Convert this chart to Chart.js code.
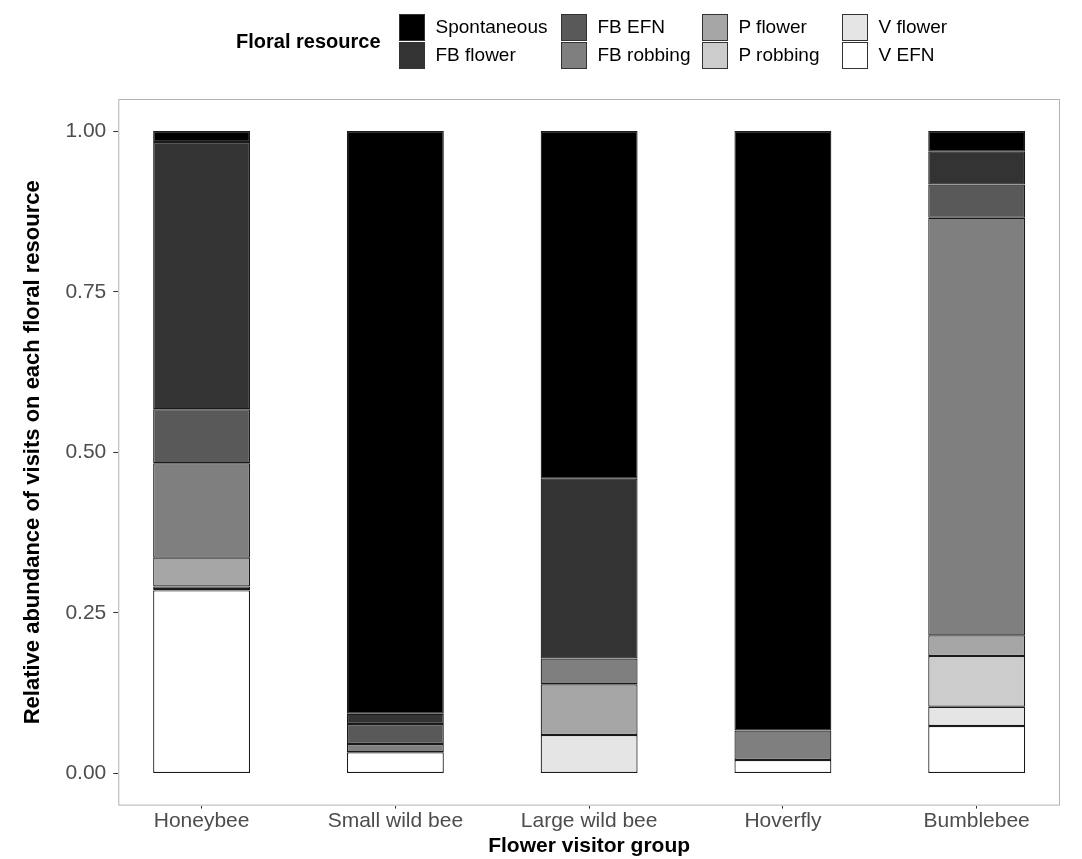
<!DOCTYPE html>
<html>
<head>
<meta charset="utf-8">
<script src="https://cdn.jsdelivr.net/npm/chart.js@4.4.1/dist/chart.umd.min.js"></script>
<style>
  html, body { margin: 0; padding: 0; background: #fff; }
  #wrap { position: relative; width: 1082px; height: 859px; font-family: "Liberation Sans", Arial, sans-serif; }
  #legend { position: absolute; top: 13px; left: 236px; display: flex; align-items: center; }
  #legend .title { font-weight: bold; font-size: 20px; margin-right: 18px; color: #000; }
  #legend .grid { display: grid; grid-auto-flow: column; grid-template-rows: 28px 28px; grid-template-columns: 162px 141px 140px auto; }
  #legend .item { display: flex; align-items: center; font-size: 19px; color: #000; }
  #legend .box { width: 26px; height: 27px; border: 1px solid #333; box-sizing: border-box; margin-right: 11px; flex: none; }
</style>
</head>
<body>
<div id="wrap">
  <canvas id="myChart" width="1082" height="859"></canvas>
  <div id="legend"></div>
</div>
<script>
const groups = ['Honeybee', 'Small wild bee', 'Large wild bee', 'Hoverfly', 'Bumblebee'];

// stack order from top to bottom, as in the legend
const resources = ['Spontaneous', 'FB flower', 'FB EFN', 'FB robbing', 'P flower', 'P robbing', 'V flower', 'V EFN'];
const fills = ['#000000', '#333333', '#595959', '#7f7f7f', '#a6a6a6', '#cccccc', '#e5e5e5', '#ffffff'];

const spontaneous = [0.017, 0.907, 0.541, 0.933, 0.032];
const fbFlower    = [0.416, 0.016, 0.280, 0.000, 0.051];
const fbEfn       = [0.084, 0.031, 0.000, 0.000, 0.052];
const fbRobbing   = [0.147, 0.013, 0.040, 0.046, 0.650];
const pFlower     = [0.045, 0.000, 0.079, 0.000, 0.032];
const pRobbing    = [0.004, 0.000, 0.000, 0.000, 0.079];
const vFlower     = [0.002, 0.000, 0.060, 0.000, 0.030];
const vEfn        = [0.285, 0.033, 0.000, 0.021, 0.074];

const seriesValues = [spontaneous, fbFlower, fbEfn, fbRobbing, pFlower, pRobbing, vFlower, vEfn];
const yTicks = [0, 0.25, 0.5, 0.75, 1];

// legend: two rows, filled column by column
const legendEl = document.getElementById('legend');
let html = '<div class="title">Floral resource</div><div class="grid">';
resources.forEach((name, i) => {
    html += '<div class="item"><span class="box" style="background:' + fills[i] + '"></span>' + name + '</div>';
});
legendEl.innerHTML = html + '</div>';

// chart.js stacks the first dataset at the bottom
const datasets = resources.map((name, i) => ({
    label: name,
    data: seriesValues[i].map((v, j) => ({ x: j, y: v })),
    backgroundColor: fills[i],
    borderColor: '#1a1a1a',
    borderWidth: 1.2,
    borderSkipped: false
})).reverse();

const panelBorder = {
    id: 'panelBorder',
    afterDraw(chart) {
        const a = chart.chartArea;
        const c = chart.ctx;
        c.save();
        c.strokeStyle = '#b3b3b3';
        c.lineWidth = 1;
        c.strokeRect(a.left + 0.5, a.top + 0.5, a.right - a.left - 1, a.bottom - a.top - 1);
        c.restore();
    }
};

const ctx = document.getElementById('myChart');

new Chart(ctx, {
    type: 'bar',
    data: { datasets: datasets },
    options: {
        responsive: false,
        animation: false,
        layout: { padding: { top: 99, right: 22, bottom: 0, left: 8 } },
        plugins: { legend: { display: false }, tooltip: { enabled: false } },
        datasets: { bar: { barPercentage: 0.5, categoryPercentage: 1 } },
        scales: {
            x: {
                type: 'linear',
                stacked: true,
                offset: false,
                min: -0.43,
                max: groups.length - 0.57,
                afterBuildTicks: axis => { axis.ticks = groups.map((g, i) => ({ value: i })); },
                ticks: {
                    callback: v => groups[v],
                    color: '#4d4d4d',
                    font: { family: 'Liberation Sans', size: 21 },
                    padding: 0
                },
                grid: { display: true, drawOnChartArea: false, drawTicks: true, tickLength: 3, color: '#333', offset: false },
                border: { display: false },
                title: {
                    display: true,
                    text: 'Flower visitor group',
                    color: '#000',
                    font: { family: 'Liberation Sans', size: 21, weight: 'bold' },
                    padding: { top: 0, bottom: 0 }
                }
            },
            y: {
                stacked: true,
                min: -0.05,
                max: 1.05,
                afterBuildTicks: axis => { axis.ticks = yTicks.map(v => ({ value: v })); },
                ticks: {
                    callback: v => v.toFixed(2),
                    color: '#4d4d4d',
                    font: { family: 'Liberation Sans', size: 21 },
                    padding: 7
                },
                grid: { display: true, drawOnChartArea: false, drawTicks: true, tickLength: 5, color: '#333' },
                border: { display: false },
                title: {
                    display: true,
                    text: 'Relative abundance of visits on each floral resource',
                    color: '#000',
                    font: { family: 'Liberation Sans', size: 22, weight: 'bold' },
                    padding: { top: 12, bottom: 12 }
                }
            }
        }
    },
    plugins: [panelBorder]
});
</script>
</body>
</html>
